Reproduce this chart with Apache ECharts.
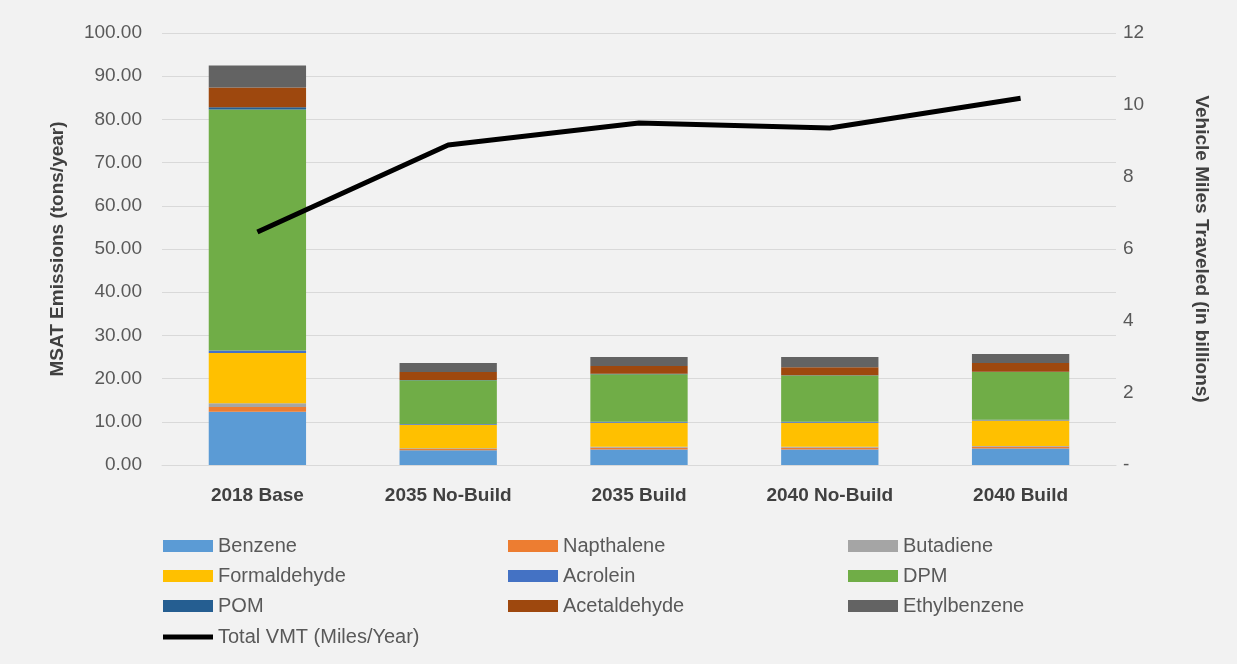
<!DOCTYPE html>
<html>
<head>
<meta charset="utf-8">
<script src="https://cdn.jsdelivr.net/npm/echarts@6/dist/echarts.min.js"></script>
<style>
html,body{margin:0;padding:0;background:#f2f2f2;}
#chart{width:1237px;height:664px;}
</style>
</head>
<body>
<div id="chart"></div>
<script>
const categories = ['2018 Base', '2035 No-Build', '2035 Build', '2040 No-Build', '2040 Build'];
const benzene      = [12.3, 3.4, 3.6, 3.6, 3.8];
const napthalene   = [1.1, 0.3, 0.4, 0.4, 0.4];
const butadiene    = [0.9, 0.2, 0.2, 0.2, 0.2];
const formaldehyde = [11.6, 5.4, 5.6, 5.6, 5.9];
const acrolein     = [0.6, 0.2, 0.2, 0.2, 0.2];
const dpm          = [55.8, 10.1, 11.0, 10.7, 11.0];
const pom          = [0.5, 0.1, 0.1, 0.1, 0.1];
const acetaldehyde = [4.6, 1.8, 1.8, 1.8, 2.0];
const ethylbenzene = [5.1, 2.1, 2.1, 2.4, 2.1];
const totalVMT     = [6.47, 8.89, 9.5, 9.36, 10.19];

const stackSeries = [
  ['Benzene', benzene, '#5B9BD5'],
  ['Napthalene', napthalene, '#ED7D31'],
  ['Butadiene', butadiene, '#A5A5A5'],
  ['Formaldehyde', formaldehyde, '#FFC000'],
  ['Acrolein', acrolein, '#4472C4'],
  ['DPM', dpm, '#70AD47'],
  ['POM', pom, '#255E91'],
  ['Acetaldehyde', acetaldehyde, '#9E480E'],
  ['Ethylbenzene', ethylbenzene, '#636363']
];

const font = 'Liberation Sans, sans-serif';
const chart = echarts.init(document.getElementById('chart'));

const series = stackSeries.map(([name, data, color]) => ({
  name, type: 'bar', stack: 'msat', data,
  barWidth: '51%',
  itemStyle: { color },
  emphasis: { disabled: true }
}));
series.push({
  name: 'Total VMT (Miles/Year)', type: 'line', yAxisIndex: 1, data: totalVMT,
  symbol: 'none', lineStyle: { color: '#000', width: 5 }, itemStyle: { color: '#000' },
  z: 10
});

const legendBase = {
  orient: 'vertical', itemWidth: 50, itemHeight: 12, itemGap: 10,
  textStyle: { fontFamily: font, fontSize: 20, color: '#595959', padding: [0,0,0,0] },
  icon: 'rect'
};

chart.setOption({
  backgroundColor: '#f2f2f2',
  animation: false,
  grid: { left: 162, right: 121, top: 33, bottom: 199 },
  xAxis: {
    type: 'category', data: categories,
    axisLine: { lineStyle: { color: '#d9d9d9', width: 1 } },
    axisTick: { show: false },
    axisLabel: { fontFamily: font, fontSize: 19, fontWeight: 'bold', color: '#404040', margin: 21 }
  },
  yAxis: [{
    type: 'value', min: 0, max: 100, interval: 10,
    name: 'MSAT Emissions (tons/year)', nameLocation: 'middle', nameGap: 95, nameRotate: 90,
    nameTextStyle: { fontFamily: font, fontSize: 19, fontWeight: 'bold', color: '#404040' },
    axisLabel: { fontFamily: font, fontSize: 19, color: '#595959', margin: 20, formatter: v => v.toFixed(2) },
    splitLine: { lineStyle: { color: '#d9d9d9' } },
    axisLine: { show: false }, axisTick: { show: false }
  }, {
    type: 'value', min: 0, max: 12, interval: 2,
    name: 'Vehicle Miles Traveled (in billions)', nameLocation: 'middle', nameGap: 76, nameRotate: -90,
    nameTextStyle: { fontFamily: font, fontSize: 19, fontWeight: 'bold', color: '#404040' },
    axisLabel: { fontFamily: font, fontSize: 19, color: '#595959', margin: 7, formatter: v => v === 0 ? '-' : String(v) },
    splitLine: { show: false }, axisLine: { show: false }, axisTick: { show: false }
  }],
  legend: [
    Object.assign({}, legendBase, { left: 158, top: 531, data: ['Benzene', 'Formaldehyde', 'POM'] }),
    Object.assign({}, legendBase, { left: 503, top: 531, data: ['Napthalene', 'Acrolein', 'Acetaldehyde'] }),
    Object.assign({}, legendBase, { left: 843, top: 531, data: ['Butadiene', 'DPM', 'Ethylbenzene'] }),
    Object.assign({}, legendBase, { left: 158, top: 622, itemHeight: 5,
      data: [{ name: 'Total VMT (Miles/Year)', icon: 'rect' }] })
  ],
  series
});
</script>
</body>
</html>
